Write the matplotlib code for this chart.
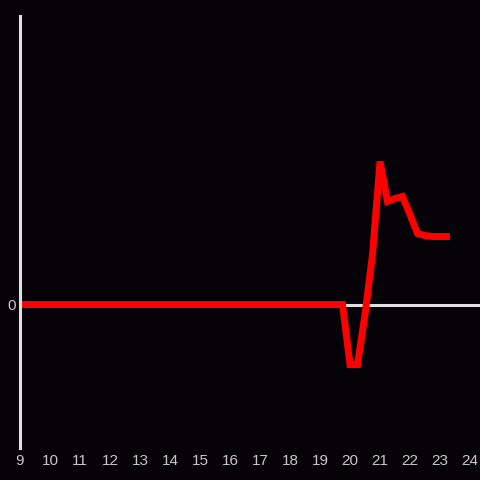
import matplotlib
matplotlib.use("Agg")
import matplotlib.pyplot as plt
import numpy as np

plt.rcParams['font.family'] = ['Liberation Sans', 'DejaVu Sans']

# Hours (15-minute steps) and values (arbitrary units, 0 = baseline)
hours = [9.0 + 0.25 * i for i in range(0, 44)]  # 9.00 .. 19.75
values = [0] * len(hours)
hours += [20.0, 20.25, 20.5, 20.75, 21.0, 21.25, 21.5, 21.75, 22.0, 22.25, 22.5, 22.75, 23.0, 23.33]
values += [-60, -60, -10, 50, 143, 103, 106, 108, 90, 71, 69, 68, 68, 68]

xticks = list(range(9, 25))
yticks = [0]

bg = '#050307'
fig = plt.figure(figsize=(4.8, 4.8), dpi=100, facecolor=bg)
ax = fig.add_axes([20/480, 32/480, 460/480, 432/480])
ax.set_facecolor(bg)

ax.axhline(0, color='#e0e0e0', lw=2.2, zorder=1)
ax.plot(hours, values, color='#ff0000', lw=5, solid_joinstyle='miter', solid_capstyle='butt', zorder=2)

ax.set_xlim(9, 9 + 460/30)
ax.set_ylim(-143.5, 288.5)
ax.set_xticks(xticks)
ax.set_xticklabels([str(t) for t in xticks])
ax.set_yticks(yticks)
ax.set_yticklabels(['0'])
ax.tick_params(axis='both', length=0, colors='#c8c8c8', labelsize=11)
ax.tick_params(axis='x', pad=4)
ax.tick_params(axis='y', pad=3)

for s in ['top', 'right', 'bottom']:
    ax.spines[s].set_visible(False)
ax.spines['left'].set_color('#e0e0e0')
ax.spines['left'].set_linewidth(2.2)

fig.savefig('out.png', dpi=100, facecolor=bg)
